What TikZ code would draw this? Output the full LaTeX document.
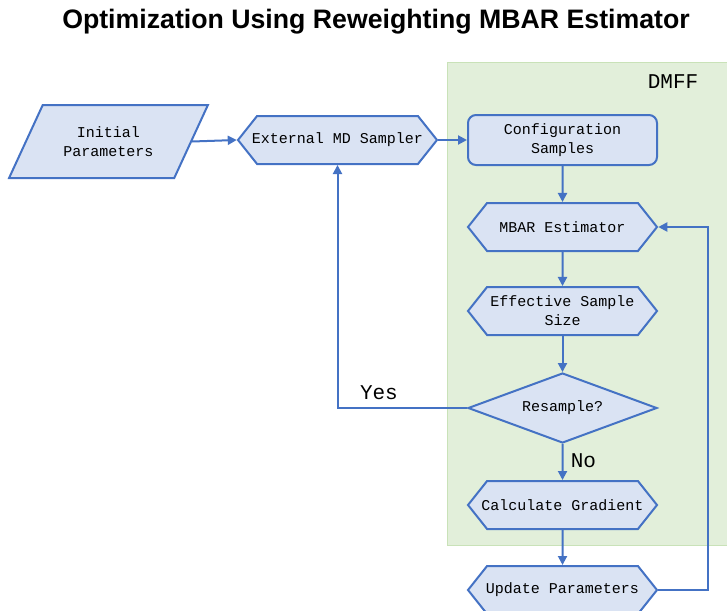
\documentclass[tikz,border=0pt]{standalone}
\usepackage{fontspec}
\setmonofont{Liberation Mono}
\newfontfamily\titlefont{Liberation Sans}
\usepackage{tikz}
\usetikzlibrary{shapes,shapes.geometric,shapes.symbols,arrows.meta}
\usetikzlibrary{positioning}
\definecolor{boxblue}{HTML}{DAE3F3}
\definecolor{lineblue}{HTML}{4472C4}
\definecolor{dmffgreen}{HTML}{E2EFDA}
\definecolor{dmffedge}{HTML}{C9E2B8}
\tikzstyle{arrow} = [-{Triangle[length=9pt,width=9pt]}, draw=lineblue, line width=2pt]
\tikzstyle{hexa} = [signal, signal to=west and east, signal pointer angle=103,
   draw=lineblue, fill=boxblue, line width=2pt, minimum width=189pt,
   minimum height=48pt, align=center, inner xsep=-15pt, inner ysep=2pt]
\tikzstyle{process} = [rectangle, rounded corners=8pt, draw=lineblue, fill=boxblue,
   line width=2pt, minimum width=189pt, minimum height=50pt, align=center]
\tikzstyle{decision} = [diamond, aspect=2.7, draw=lineblue, fill=boxblue, line width=2pt,
   minimum width=189pt, minimum height=70pt, align=center, inner sep=0pt]
\tikzstyle{io} = [trapezium, trapezium left angle=56, trapezium right angle=124,
   trapezium stretches=true, draw=lineblue, fill=boxblue, line width=2pt,
   minimum width=199pt, minimum height=73pt, align=center]
\tikzstyle{answer} = [font=\ttfamily\fontsize{21}{22}\selectfont]

\begin{document}
\begin{tikzpicture}[x=1pt, y=-1pt, node distance=36pt,
   every node/.style={font=\ttfamily\fontsize{15}{19}\selectfont}]

\useasboundingbox (0,0) rectangle (727,610);

% DMFF region
\fill[dmffgreen, draw=dmffedge, line width=1pt] (447,62) rectangle (730,545);
\node (dmff) at (673,82) {\fontsize{21}{22}\selectfont DMFF};

\node (title) at (376,22) {\titlefont\bfseries\fontsize{26.7}{30}\selectfont Optimization Using Reweighting MBAR Estimator};

\node (s0) [io] at (108.5,141.5) {Initial\\Parameters};

\node (s1) [hexa, minimum width=199pt] at (337.5,140) {External MD Sampler};

\draw [arrow] (s0.east) -- (s1.west);

\node (s2) [process] at (562.5,140) {Configuration\\Samples};

\draw [arrow] (s1.east) -- (s2.west);

\node (s3) [hexa, below=of s2] {MBAR Estimator};

\draw [arrow] (s2) -- (s3);

\node (s4) [hexa, below=34pt of s3] {Effective Sample\\Size};

\draw [arrow] (s3) -- (s4);

\node (s5) [decision, below=36pt of s4] {Resample?};

\draw [arrow] (s4) -- (s5);

\node (s6) [hexa, below=36pt of s5] {Calculate Gradient};

\draw [arrow] (s5) -- node [answer, right=4pt, pos=0.45] {No} (s6);

\node (s7) [hexa, below=35pt of s6] {Update Parameters};

\draw [arrow] (s6) -- (s7);

% loops back
\draw [arrow] (s5.west) -| node [answer, pos=0.34, above=4pt] {Yes} (s1.south);
\draw [arrow] (s7.east) -- ++(50,0) |- (s3.east);

\end{tikzpicture}
\end{document}
